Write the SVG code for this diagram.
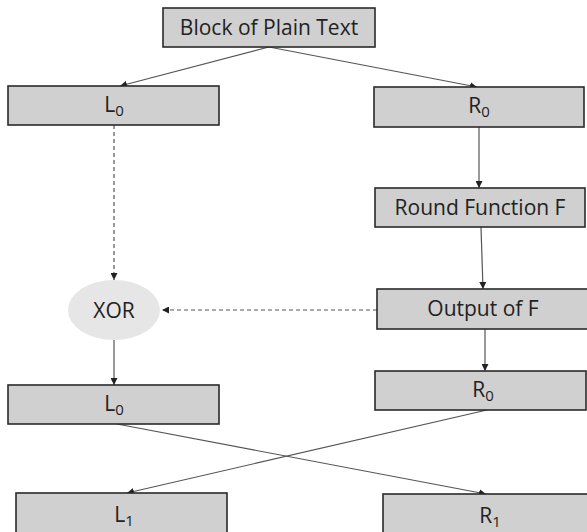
<svg xmlns="http://www.w3.org/2000/svg" width="587" height="532" viewBox="0 0 587 532">
<style>
.box{fill:#d0d0d0;stroke:#2a2a2a;stroke-width:1.6}
.t{font-family:"Open Sans","Noto Sans",sans-serif;font-size:21px;fill:#222;text-anchor:middle}
.sub{font-size:15px}
.c{stroke:#555;stroke-width:1.2;fill:none;marker-end:url(#ah)}
.d{stroke-dasharray:4,3}
</style>
<defs>
<marker id="ah" viewBox="0 0 10 10" refX="10" refY="5" markerWidth="7" markerHeight="7" markerUnits="userSpaceOnUse" orient="auto">
<path d="M0,0 L10,5 L0,10 z" fill="#222"/>
</marker>
</defs>
<rect width="587" height="532" fill="#fff"/>
<g id="connectors">
<line class="c" x1="269" y1="47" x2="120" y2="86"/>
<line class="c" x1="269" y1="47" x2="477" y2="87"/>
<line class="c" x1="479" y1="127" x2="479" y2="188"/>
<line class="c" x1="481" y1="227" x2="483" y2="289"/>
<line class="c d" x1="114" y1="125" x2="114" y2="280"/>
<line class="c d" x1="377" y1="310" x2="162" y2="310"/>
<line class="c" x1="114" y1="340" x2="114" y2="385"/>
<line class="c" x1="485" y1="329" x2="485" y2="371"/>
<line class="c" x1="117" y1="424" x2="486" y2="494"/>
<line class="c" x1="487" y1="410" x2="127" y2="493"/>
</g>
<g id="plain"><rect class="box" x="163" y="8" width="212" height="39"/><text class="t" x="269" y="35">Block of Plain Text</text></g>
<g id="l0"><rect class="box" x="8" y="86" width="211" height="39"/><text class="t" x="114" y="112">L<tspan class="sub" dy="4">0</tspan></text></g>
<g id="r0"><rect class="box" x="374" y="87" width="210" height="40"/><text class="t" x="479" y="113">R<tspan class="sub" dy="4">0</tspan></text></g>
<g id="round"><rect class="box" x="375" y="188" width="210" height="39"/><text class="t" x="480" y="215">Round Function F</text></g>
<g id="xor"><ellipse cx="114" cy="310" rx="46" ry="30" fill="#e6e6e6"/><text class="t" x="114" y="318">XOR</text></g>
<g id="outf"><rect class="box" x="377" y="289" width="212" height="40"/><text class="t" x="483" y="316">Output of F</text></g>
<g id="l0b"><rect class="box" x="8" y="385" width="211" height="39"/><text class="t" x="114" y="411">L<tspan class="sub" dy="4">0</tspan></text></g>
<g id="r0b"><rect class="box" x="375" y="371" width="211" height="39"/><text class="t" x="483" y="397">R<tspan class="sub" dy="4">0</tspan></text></g>
<g id="l1"><rect class="box" x="16" y="493" width="211" height="45"/><text class="t" x="124" y="522">L<tspan class="sub" dy="4">1</tspan></text></g>
<g id="r1"><rect class="box" x="383" y="494" width="210" height="45"/><text class="t" x="490" y="523">R<tspan class="sub" dy="4">1</tspan></text></g>
</svg>
